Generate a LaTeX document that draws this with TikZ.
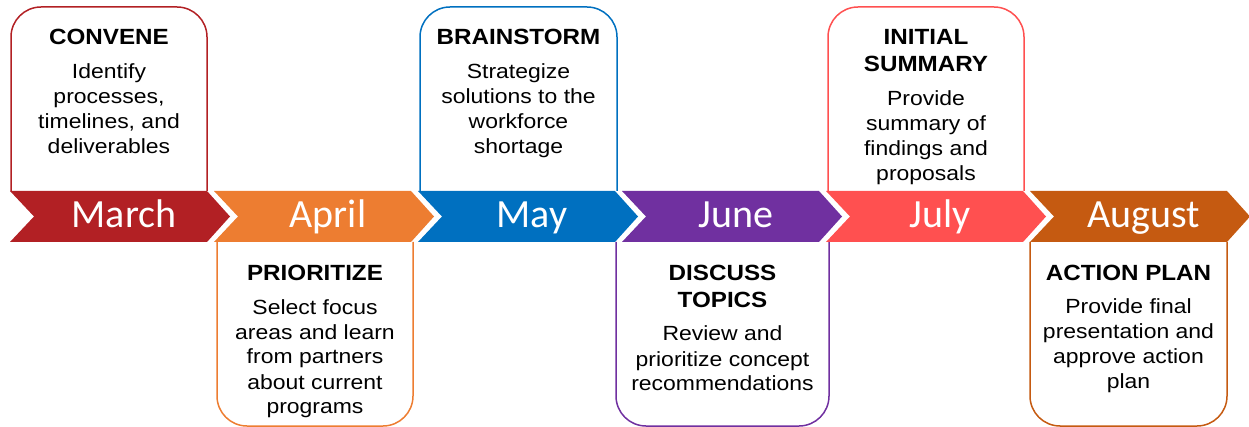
\documentclass[tikz,border=0pt]{standalone}
\usepackage{fontspec}
\setmainfont{Liberation Sans}
\newfontfamily\headfam[FakeStretch=1.1]{Liberation Sans}
\newfontfamily\textfam[FakeStretch=1.12]{Liberation Sans}
\newfontfamily\monthfam{Carlito}

\definecolor{cmar}{HTML}{B22024}
\definecolor{capr}{HTML}{ED7D31}
\definecolor{cmay}{HTML}{0070C0}
\definecolor{cjun}{HTML}{7030A0}
\definecolor{cjul}{HTML}{FF5050}
\definecolor{caug}{HTML}{C55A11}

% centred stack of lines whose baseline is the first line's baseline
\newcommand\stk[1]{\begin{tabular}[t]{@{}c@{}}#1\end{tabular}}

\tikzset{
  ttl/.style={anchor=base, inner sep=0pt,
    font=\headfam\bfseries\fontsize{22}{27}\selectfont},
  bdy/.style={anchor=base, inner sep=0pt,
    font=\textfam\fontsize{20.5}{25}\selectfont},
  mon/.style={anchor=base, inner sep=0pt, text=white,
    font=\monthfam\fontsize{40}{44}\selectfont},
  frame/.style={draw=#1, line width=1.5pt, rounded corners=30pt},
}

% chevron: left x, colour
\newcommand\chev[2]{%
  \fill[#2] (#1,191) -- ++(197,0) -- ++(23,25.5) -- ++(-23,25.5)
    -- ++(-197,0) -- ++(24,-25.5) -- cycle;}

\begin{document}
\begin{tikzpicture}[x=1pt,y=-1pt]
\useasboundingbox (0,0) rectangle (1249,427);

% phase frames above and below the timeline
\draw[frame=cmar] (11,191) -- (11,7) -- (207,7) -- (207,191);
\draw[frame=capr] (217,242) -- (217,426) -- (413,426) -- (413,242);
\draw[frame=cmay] (420,191) -- (420,7) -- (617,7) -- (617,191);
\draw[frame=cjun] (616,242) -- (616,426) -- (829,426) -- (829,242);
\draw[frame=cjul] (828,191) -- (828,7) -- (1024,7) -- (1024,191);
\draw[frame=caug] (1030,242) -- (1030,426) -- (1227,426) -- (1227,242);

% month chevrons
\chev{10}{cmar}
\chev{214}{capr}
\chev{418}{cmay}
\chev{622}{cjun}
\chev{826}{cjul}
\chev{1030}{caug}

\node[mon] (m1) at (124,228) {March};
\node[mon] (m2) at (328,228) {April};
\node[mon] (m3) at (532,228) {May};
\node[mon] (m4) at (736,228) {June};
\node[mon] (m5) at (940,228) {July};
\node[mon] (m6) at (1144,228) {August};

% March
\node[ttl] (t1) at (109,44.5) {\stk{CONVENE}};
\node[bdy] (b1) at (109,78.5) {\stk{Identify\\processes,\\timelines, and\\deliverables}};
% April
\node[ttl] (t2) at (315,281) {\stk{PRIORITIZE}};
\node[bdy] (b2) at (315,314) {\stk{Select focus\\areas and learn\\from partners\\about current\\programs}};
% May
\node[ttl] (t3) at (518.5,44.5) {\stk{BRAINSTORM}};
\node[bdy] (b3) at (518.5,78.5) {\stk{Strategize\\solutions to the\\workforce\\shortage}};
% June
\node[ttl] (t4) at (722.5,281) {\stk{DISCUSS\\TOPICS}};
\node[bdy] (b4) at (722.5,341) {\stk{Review and\\prioritize concept\\recommendations}};
% July
\node[ttl] (t5) at (926,44.5) {\stk{INITIAL\\SUMMARY}};
\node[bdy] (b5) at (926,106) {\stk{Provide\\summary of\\findings and\\proposals}};
% August
\node[ttl] (t6) at (1128.5,281) {\stk{ACTION PLAN}};
\node[bdy] (b6) at (1128.5,313.5) {\stk{Provide final\\presentation and\\approve action\\plan}};
\end{tikzpicture}
\end{document}
